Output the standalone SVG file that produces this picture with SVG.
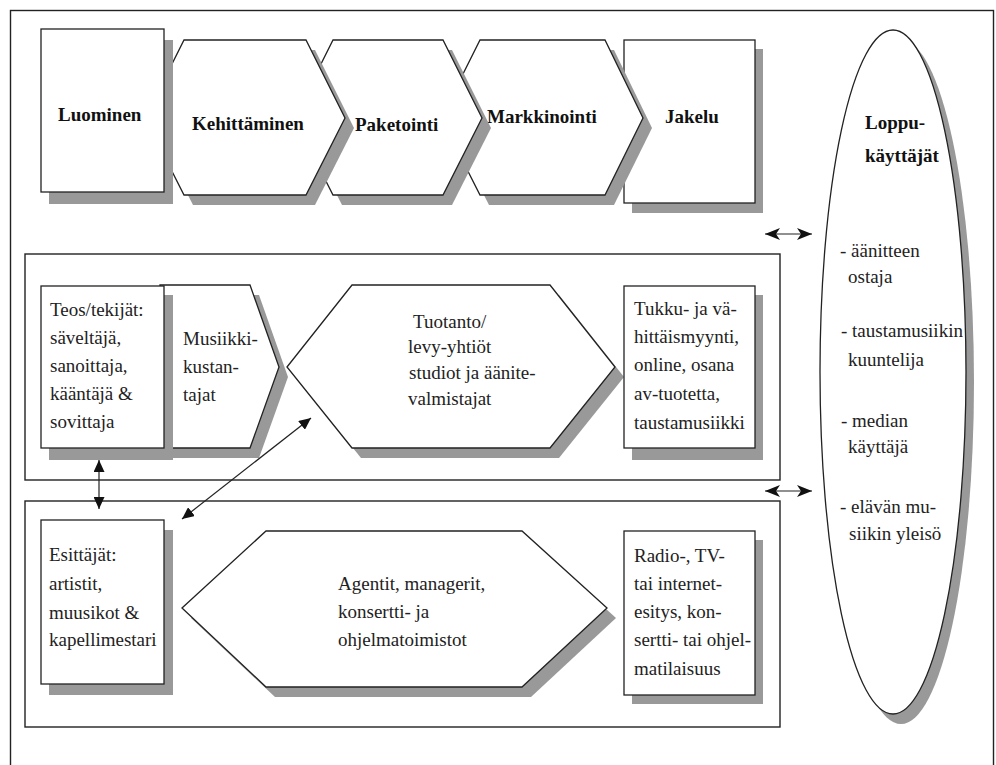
<svg xmlns="http://www.w3.org/2000/svg" width="996" height="765" viewBox="0 0 996 765">
<style>
.sh{fill:#999;stroke:none}
.bx{fill:#fff;stroke:#222;stroke-width:1.3}
.fr{fill:none;stroke:#222;stroke-width:1.4}
.t{font-family:'Liberation Serif',serif;font-size:19px;fill:#222}
.b{font-family:'Liberation Serif',serif;font-size:19px;font-weight:bold;fill:#111}
.ln{fill:none;stroke:#222;stroke-width:1.2}
</style>
<defs>
<marker id="tri" markerUnits="userSpaceOnUse" markerWidth="12" markerHeight="11" refX="12" refY="5.5" orient="auto-start-reverse" viewBox="0 0 12 11">
<path d="M0,0 L12,5.5 L0,11 z" fill="#111"/>
</marker>
<marker id="stl" markerUnits="userSpaceOnUse" markerWidth="15" markerHeight="12" refX="15" refY="6" orient="auto-start-reverse" viewBox="0 0 15 12">
<path d="M0,0 L15,6 L0,12 L4,6 z" fill="#111"/>
</marker>
</defs>
<rect width="996" height="765" fill="#fff"/>
<rect class="fr" x="10.5" y="10.5" width="983" height="800"/>

<rect id="group-recording" class="fr" x="25" y="254" width="755" height="226"/>
<rect id="group-live" class="fr" x="25" y="501" width="755" height="226"/>

<g id="jakelu">
<rect class="sh" x="632" y="49" width="131" height="164"/>
<rect class="bx" x="624" y="40" width="131" height="163"/>
<text class="b" x="665" y="123">Jakelu</text>
</g>
<g id="markkinointi">
<polygon class="sh" transform="translate(9,10)" points="441,118 480,40 605,40 643,118 605,195 480,195"/>
<polygon class="bx" points="441,118 480,40 605,40 643,118 605,195 480,195"/>
<text class="b" x="487" y="123">Markkinointi</text>
</g>
<g id="paketointi">
<polygon class="sh" transform="translate(9,10)" points="294,118 333,40 443,40 482,118 443,195 333,195"/>
<polygon class="bx" points="294,118 333,40 443,40 482,118 443,195 333,195"/>
<text class="b" x="355" y="131">Paketointi</text>
</g>
<g id="kehittaminen">
<polygon class="sh" transform="translate(9,10)" points="145,118 184,40 306,40 345,118 306,195 184,195"/>
<polygon class="bx" points="145,118 184,40 306,40 345,118 306,195 184,195"/>
<text class="b" x="192" y="130">Kehittäminen</text>
</g>
<g id="luominen">
<rect class="sh" x="49" y="40" width="124" height="164"/>
<rect class="bx" x="41" y="29" width="123" height="163"/>
<text class="b" x="58" y="121">Luominen</text>
</g>

<g id="loppukayttajat">
<ellipse class="sh" cx="901" cy="382" rx="73" ry="342"/>
<ellipse class="bx" cx="893" cy="372" rx="73" ry="342"/>
<text class="b" x="865" y="129">Loppu-</text>
<text class="b" x="865" y="162">käyttäjät</text>
<text class="t" x="840" y="257">- äänitteen</text>
<text class="t" x="848" y="283">ostaja</text>
<text class="t" x="841" y="337">- taustamusiikin</text>
<text class="t" x="848" y="366">kuuntelija</text>
<text class="t" x="841" y="427">- median</text>
<text class="t" x="848" y="453">käyttäjä</text>
<text class="t" x="840" y="513">- elävän mu-</text>
<text class="t" x="849" y="540">siikin yleisö</text>
</g>

<g id="tuotanto">
<polygon class="sh" transform="translate(9,10)" points="287,367 352,285 550,285 615,367 550,448 352,448"/>
<polygon class="bx" points="287,367 352,285 550,285 615,367 550,448 352,448"/>
<text class="t" x="413" y="328">Tuotanto/</text>
<text class="t" x="408" y="353">levy-yhtiöt</text>
<text class="t" x="409" y="379">studiot ja äänite-</text>
<text class="t" x="408" y="405">valmistajat</text>
</g>
<g id="musiikkikustantajat">
<polygon class="sh" transform="translate(9,10)" points="160,285 250,285 279,367 250,448 160,448"/>
<polygon class="bx" points="160,285 250,285 279,367 250,448 160,448"/>
<text class="t" x="183" y="345">Musiikki-</text>
<text class="t" x="183" y="373">kustan-</text>
<text class="t" x="183" y="401">tajat</text>
</g>
<g id="teos">
<rect class="sh" x="49" y="295" width="124" height="165"/>
<rect class="bx" x="41" y="286" width="123" height="162"/>
<text class="t" x="50" y="316">Teos/tekijät:</text>
<text class="t" x="50" y="344">säveltäjä,</text>
<text class="t" x="50" y="372">sanoittaja,</text>
<text class="t" x="50" y="400">kääntäjä &amp;</text>
<text class="t" x="50" y="428">sovittaja</text>
</g>
<g id="tukku">
<rect class="sh" x="632" y="295" width="131" height="165"/>
<rect class="bx" x="624" y="286" width="131" height="162"/>
<text class="t" x="634" y="315">Tukku- ja vä-</text>
<text class="t" x="634" y="343">hittäismyynti,</text>
<text class="t" x="634" y="371">online, osana</text>
<text class="t" x="634" y="400">av-tuotetta,</text>
<text class="t" x="634" y="429">taustamusiikki</text>
</g>

<g id="agentit">
<polygon class="sh" transform="translate(9,10)" points="182,608 266,531 522,531 607,608 522,687 266,687"/>
<polygon class="bx" points="182,608 266,531 522,531 607,608 522,687 266,687"/>
<text class="t" x="338" y="590">Agentit, managerit,</text>
<text class="t" x="338" y="618">konsertti- ja</text>
<text class="t" x="338" y="646">ohjelmatoimistot</text>
</g>
<g id="esittajat">
<rect class="sh" x="49" y="530" width="124" height="165"/>
<rect class="bx" x="41" y="520" width="123" height="164"/>
<text class="t" x="49" y="561">Esittäjät:</text>
<text class="t" x="49" y="590">artistit,</text>
<text class="t" x="49" y="619">muusikot &amp;</text>
<text class="t" x="49" y="646">kapellimestari</text>
</g>
<g id="radio">
<rect class="sh" x="632" y="540" width="131" height="164"/>
<rect class="bx" x="624" y="531" width="131" height="164"/>
<text class="t" x="634" y="562">Radio-, TV-</text>
<text class="t" x="634" y="590">tai internet-</text>
<text class="t" x="634" y="618">esitys, kon-</text>
<text class="t" x="634" y="646">sertti- tai ohjel-</text>
<text class="t" x="634" y="675">matilaisuus</text>
</g>

<g id="connectors">
<line class="ln" x1="99" y1="460" x2="99" y2="509" marker-start="url(#tri)" marker-end="url(#tri)"/>
<line class="ln" x1="182" y1="519" x2="311" y2="418" marker-start="url(#tri)" marker-end="url(#tri)"/>
<line class="ln" x1="765" y1="234" x2="812" y2="234" marker-start="url(#stl)" marker-end="url(#stl)"/>
<line class="ln" x1="765" y1="491" x2="812" y2="491" marker-start="url(#stl)" marker-end="url(#stl)"/>
</g>
</svg>
